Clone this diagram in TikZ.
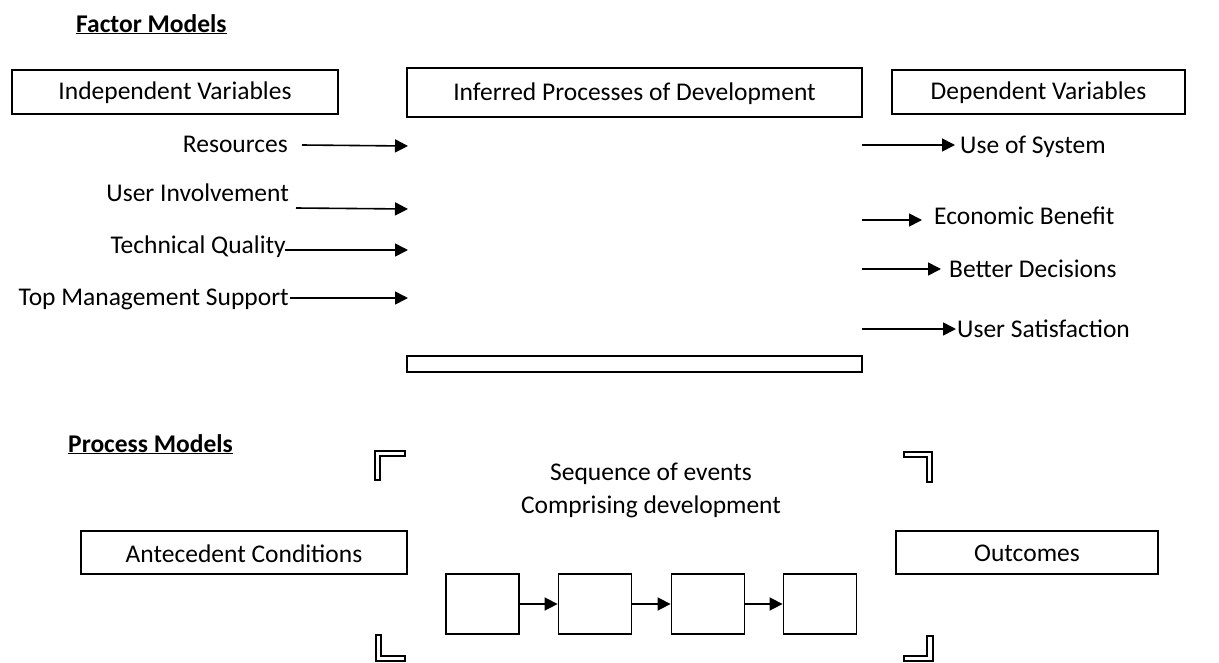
\documentclass[tikz,border=0pt]{standalone}
\usepackage{fontspec}
\setmainfont{Carlito}
\usetikzlibrary{arrows.meta}
\begin{document}
\begin{tikzpicture}[x=1pt,y=-1pt,
  txt/.style={inner sep=0pt,font=\fontsize{25.5}{30}\selectfont},
  hdr/.style={txt,font=\fontsize{25.5}{30}\selectfont\bfseries},
  frame/.style={draw,line width=1.8pt},
  evbox/.style={draw,line width=1.8pt,minimum width=73pt,minimum height=60pt,inner sep=0pt},
  arr/.style={line width=1.6pt,-{Triangle[length=13pt,width=13pt]}},
  bracket/.style={draw,line width=1.2pt,fill=white}]
\useasboundingbox (0,0) rectangle (1219,662);

% ---------- Factor models ----------
\node[hdr,anchor=base west] (fm) at (76,32) {\underline{Factor Models}};

\draw[frame] (12,70) rectangle (338,114);
\node[txt] (iv) at (175,93) {Independent Variables};
\draw[frame] (407,68) rectangle (862,117);
\node[txt] (ip) at (634.5,94) {Inferred Processes of Development};
\draw[frame] (892,70) rectangle (1185,114);
\node[txt] (dv) at (1038.5,93) {Dependent Variables};
\draw[frame] (407,356) rectangle (862,372);

% independent variables and their arrows
\node[txt,anchor=base east] (res) at (288,152) {Resources};
\node[txt,anchor=base east] (ui) at (289,201) {User Involvement};
\node[txt,anchor=base east] (tq) at (286,253) {Technical Quality};
\node[txt,anchor=base east] (tms) at (289,305) {Top Management Support};

\coordinate (resS) at (302,145);  \coordinate (resE) at (408,146);
\coordinate (uiS) at (296,208);   \coordinate (uiE) at (408,209);
\coordinate (tqS) at (285,250);   \coordinate (tqE) at (408,250);
\coordinate (tmsS) at (290,298);  \coordinate (tmsE) at (408,298);
\draw[arr] (resS) -- (resE);
\draw[arr] (uiS) -- (uiE);
\draw[arr] (tqS) -- (tqE);
\draw[arr] (tmsS) -- (tmsE);

% dependent variables and their arrows
\node[txt,anchor=base west] (use) at (960,153) {Use of System};
\node[txt,anchor=base west] (eco) at (934,224) {Economic Benefit};
\node[txt,anchor=base west] (bet) at (949,277) {Better Decisions};
\node[txt,anchor=base west] (sat) at (957,337) {User Satisfaction};

\coordinate (useS) at (862,145);
\coordinate (ecoS) at (862,220);
\coordinate (betS) at (862,269);
\coordinate (satS) at (862,329);
\draw[arr] (useS) -- ([xshift=-5pt]use.west |- useS);
\draw[arr] (ecoS) -- ([xshift=-12pt]eco.west |- ecoS);
\draw[arr] (betS) -- ([xshift=-8pt]bet.west |- betS);
\draw[arr] (satS) -- ([xshift=-1pt]sat.west |- satS);

% ---------- Process models ----------
\node[hdr,anchor=base west] (pm) at (68,452) {\underline{Process Models}};

\node[txt] (seq1) at (651,474) {Sequence of events};
\node[txt] (seq2) at (651,507) {Comprising development};

\draw[frame] (81,531) rectangle (407,574);
\node[txt] (ant) at (244,554) {Antecedent Conditions};
\draw[frame] (896,531) rectangle (1158,574);
\node[txt] (out) at (1027,553) {Outcomes};

% chain of events
\node[evbox] (e1) at (482.5,604) {};
\node[evbox] (e2) at (595,604) {};
\node[evbox] (e3) at (708,604) {};
\node[evbox] (e4) at (820,604) {};
\draw[arr] (e1) -- (e2);
\draw[arr] (e2) -- (e3);
\draw[arr] (e3) -- (e4);

% corner brackets framing the event sequence
\draw[bracket] (375,451) -- (405,451) -- (405,456) -- (380,456) -- (380,480) -- (375,480) -- cycle;
\draw[bracket] (904,452) -- (932,452) -- (932,482) -- (927,482) -- (927,457) -- (904,457) -- cycle;
\draw[bracket] (376,635) -- (381,635) -- (381,656) -- (405,656) -- (405,661) -- (376,661) -- cycle;
\draw[bracket] (927,636) -- (933,636) -- (933,661) -- (904,661) -- (904,656) -- (927,656) -- cycle;
\end{tikzpicture}
\end{document}
